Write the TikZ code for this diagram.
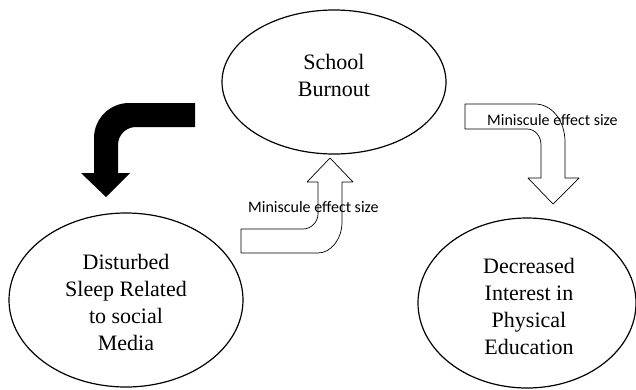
\documentclass[tikz,border=0pt]{standalone}
\usepackage{fontspec}
\setmainfont{Liberation Serif}
\newfontfamily\labelfont{Carlito}
\usetikzlibrary{shapes.geometric}
\begin{document}
\begin{tikzpicture}[x=1pt,y=-1pt,line join=round,
    oval/.style={ellipse,draw,line width=1.2pt,inner sep=0pt},
    ovaltext/.style={align=center,font=\fontsize{22}{27}\selectfont},
    hollow/.style={draw,line width=.7pt,fill=white},
    effect/.style={anchor=west,inner sep=0pt,font=\labelfont\fontsize{16}{18}\selectfont}]
			\useasboundingbox (0,0) rectangle (636,389);
			\node[oval,minimum width=224,minimum height=144] (burnout) at (334,82) {};
			\node[oval,minimum width=234,minimum height=174] (sleep) at (126,300) {};
			\node[oval,minimum width=218,minimum height=170] (interest) at (527,303) {};
			\node[ovaltext] (burnouttext) at (334,75) {School\\Burnout};
			\node[ovaltext] (sleeptext) at (126,302) {Disturbed\\Sleep Related\\to social\\Media};
			\node[ovaltext] (interesttext) at (529,306) {Decreased\\Interest in\\Physical\\Education};
			\fill (195,103)--(129,103) .. controls (109.7,103) and (94,118.7) .. (94,138)--(94,173)--(81,173)--(106,197)--(130,173)--(118,173)--(118,145) .. controls (118,135) and (126,127) .. (136,127)--(195,127)--cycle;
			\path[hollow] (241,229)--(303,229) .. controls (311,229) and (318,222) .. (318,214)--(318,182)--(307,182)--(330,158)--(353,182)--(342,182)--(342,222) .. controls (342,239) and (331,253) .. (318,253)--(241,253)--cycle;
			\path[hollow] (465,104)--(535,104) .. controls (552,104) and (565,121) .. (565,142)--(565,178)--(579,178)--(553,204)--(528,178)--(541,178)--(541,145) .. controls (541,136) and (535,129) .. (527,129)--(465,129)--cycle;
			\node[effect] (upeffect) at (248,207) {Miniscule effect size};
			\node[effect] (downeffect) at (487,120) {Miniscule effect size};
		\end{tikzpicture}
\end{document}
